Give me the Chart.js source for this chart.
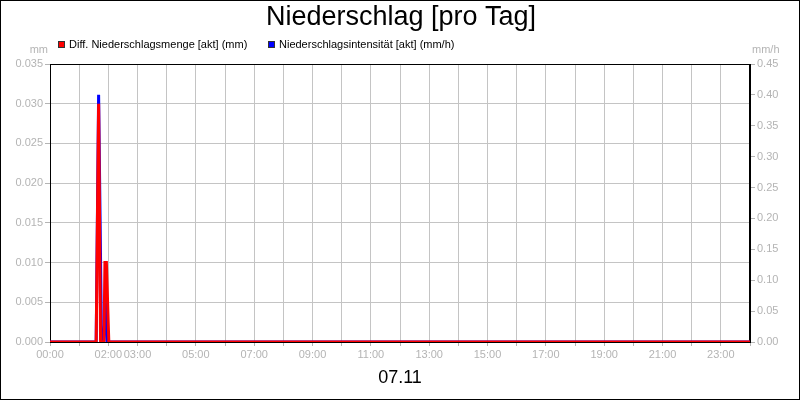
<!DOCTYPE html>
<html>
<head>
<meta charset="utf-8">
<script src="https://cdn.jsdelivr.net/npm/chart.js@4.4.1/dist/chart.umd.min.js"></script>
<style>
  html, body { margin: 0; padding: 0; background: #fff; }
  #chart { display: block; }
</style>
</head>
<body>
<canvas id="chart" width="800" height="400"></canvas>
<script>
const zeitenMenge = ["00:00", "01:35", "01:40", "01:44", "01:51", "01:53", "01:56", "02:01", "24:00"];
const mengeMm = [0, 0, 0.030, 0, 0, 0.010, 0.010, 0, 0];
const zeitenIntensitaet = ["00:00", "01:35", "01:40", "01:46", "01:51", "01:55", "01:58", "24:00"];
const intensitaetMmH = [0, 0, 0.40, 0, 0, 0.10, 0, 0];
const stundenMitLabel = [0, 2, 3, 5, 7, 9, 11, 13, 15, 17, 19, 21, 23];

const titel = "Niederschlag [pro Tag]";
const datum = "07.11";
const legendeMenge = "Diff. Niederschlagsmenge [akt] (mm)";
const legendeIntensitaet = "Niederschlagsintensität [akt] (mm/h)";

const FONT = "'Liberation Sans', Arial, sans-serif";
const GRAU = "#b4b4b4";
const GITTER = "#c4c4c4";

function zeitZuStunden(z) {
  const [h, m] = z.split(":").map(Number);
  return h + m / 60;
}

function punkte(zeiten, werte) {
  return zeiten.map((z, i) => ({ x: zeitZuStunden(z), y: werte[i] }));
}

function pad2(n) {
  return String(n).padStart(2, "0");
}

const rahmenPlugin = {
  id: "rahmen",
  beforeDraw(chart) {
    const c = chart.ctx;
    c.save();
    c.fillStyle = "#fff";
    c.fillRect(0, 0, chart.width, chart.height);
    c.restore();
  },
  beforeDatasetsDraw(chart) {
    const a = chart.chartArea;
    const c = chart.ctx;
    c.save();
    c.strokeStyle = "#000";
    c.lineWidth = 1;
    c.strokeRect(Math.round(a.left) + 0.5, Math.round(a.top) + 0.5, Math.round(a.right - a.left) - 1, Math.round(a.bottom - a.top));
    c.restore();
  },
  afterDraw(chart) {
    const c = chart.ctx;
    c.save();
    c.strokeStyle = "#000";
    c.lineWidth = 1;
    c.strokeRect(0.5, 0.5, chart.width - 1, chart.height - 1);

    c.fillStyle = "#000";
    c.textAlign = "center";
    c.textBaseline = "middle";
    c.font = "27px " + FONT;
    c.fillText(titel, 401, 18);
    c.font = "18px " + FONT;
    c.fillText(datum, 400, 378);

    c.font = "11px " + FONT;
    c.fillStyle = GRAU;
    c.textAlign = "right";
    c.fillText("mm", 48, 50);
    c.textAlign = "left";
    c.fillText("mm/h", 752, 50);

    const eintraege = [
      { x: 58, farbe: "#ff0000", text: legendeMenge },
      { x: 268, farbe: "#0000ff", text: legendeIntensitaet },
    ];
    eintraege.forEach((e) => {
      c.fillStyle = e.farbe;
      c.fillRect(e.x, 41, 7, 7);
      c.strokeStyle = "#333";
      c.strokeRect(e.x + 0.5, 41.5, 6, 6);
      c.fillStyle = "#000";
      c.textAlign = "left";
      c.fillText(e.text, e.x + 11, 45);
    });
    c.restore();
  },
};

new Chart(document.getElementById("chart"), {
  type: "line",
  data: {
    datasets: [
      {
        label: legendeMenge,
        data: punkte(zeitenMenge, mengeMm),
        yAxisID: "y",
        borderColor: "#ff0000",
        backgroundColor: "#ff0000",
        borderWidth: 3,
        pointRadius: 0,
        tension: 0,
      },
      {
        label: legendeIntensitaet,
        data: punkte(zeitenIntensitaet, intensitaetMmH),
        yAxisID: "y1",
        borderColor: "#0000ff",
        backgroundColor: "#0000ff",
        borderWidth: 3,
        pointRadius: 0,
        tension: 0,
      },
    ],
  },
  options: {
    responsive: false,
    devicePixelRatio: 1,
    animation: false,
    layout: { padding: { top: 64, left: 0, right: 0, bottom: 0 } },
    plugins: {
      legend: { display: false },
      title: { display: false },
      tooltip: { enabled: false },
    },
    scales: {
      x: {
        type: "linear",
        min: 0,
        max: 24,
        afterFit: (s) => { s.height = 58; },
        afterBuildTicks: (s) => {
          s.ticks = [];
          for (let h = 0; h <= 24; h++) s.ticks.push({ value: h });
        },
        ticks: {
          autoSkip: false,
          maxRotation: 0,
          padding: 2,
          color: GRAU,
          font: { family: FONT, size: 11 },
          callback: (v) => (stundenMitLabel.includes(v) ? `${pad2(v)}:00` : ""),
        },
        grid: { color: GITTER, tickLength: 4, tickColor: GRAU },
        border: { color: "#000" },
      },
      y: {
        position: "left",
        min: 0,
        max: 0.035,
        afterFit: (s) => { s.width = 50; },
        ticks: {
          stepSize: 0.005,
          padding: 2,
          color: GRAU,
          font: { family: FONT, size: 11 },
          callback: (v) => v.toFixed(3),
        },
        grid: { color: GITTER, tickLength: 5, tickColor: GRAU },
        border: { color: "#000" },
      },
      y1: {
        position: "right",
        min: 0,
        max: 0.45,
        afterFit: (s) => { s.width = 50; },
        ticks: {
          stepSize: 0.05,
          padding: 2,
          color: GRAU,
          font: { family: FONT, size: 11 },
          callback: (v) => v.toFixed(2),
        },
        grid: { drawOnChartArea: false, tickLength: 5, tickColor: GRAU },
        border: { color: "#000" },
      },
    },
  },
  plugins: [rahmenPlugin],
});
</script>
</body>
</html>
